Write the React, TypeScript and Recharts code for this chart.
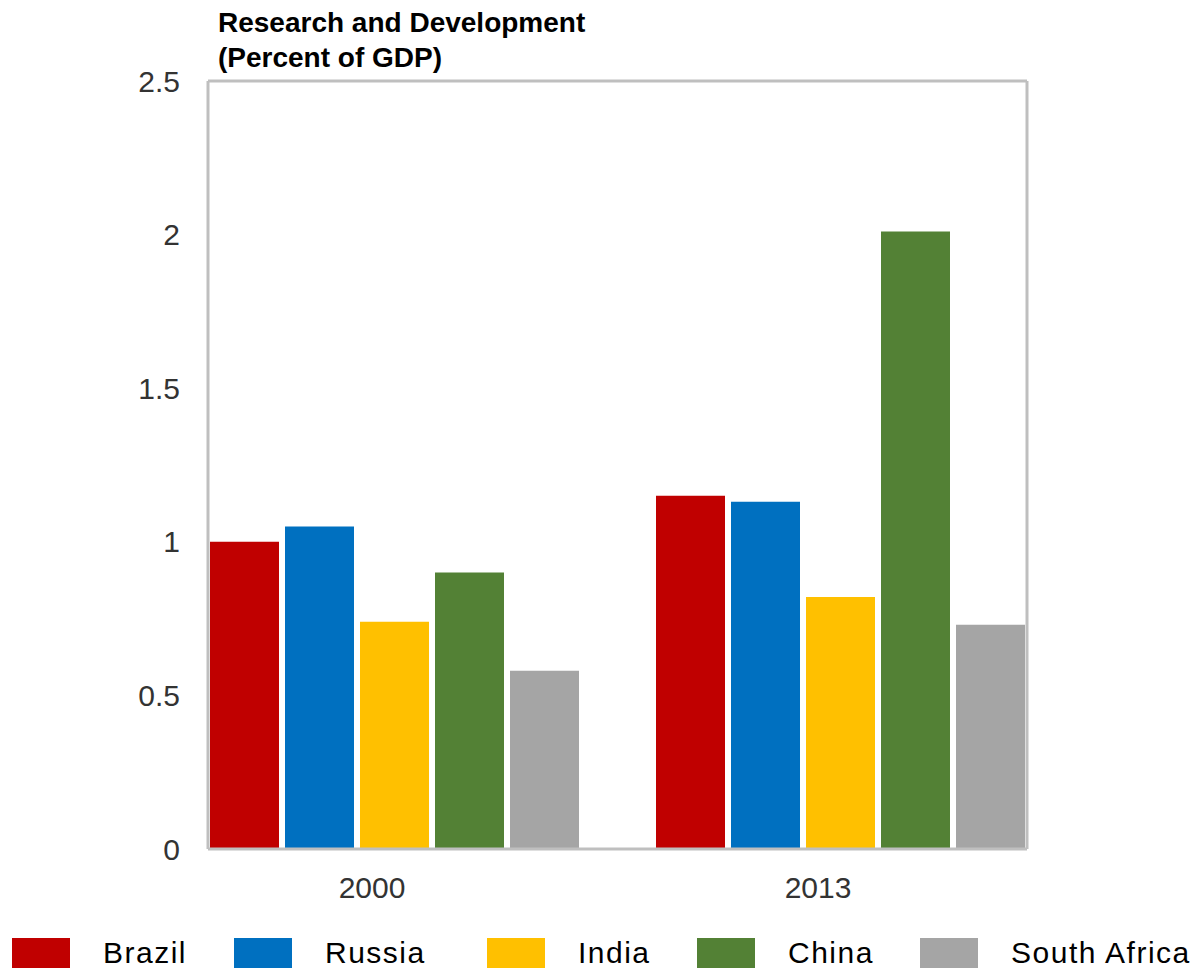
import { BarChart, Bar, XAxis, YAxis } from "recharts";

// R&D spending, percent of GDP
const years = ["2000", "2013"];
const brazil = [1.0, 1.15];
const russia = [1.05, 1.13];
const india = [0.74, 0.82];
const china = [0.9, 2.01];
const southAfrica = [0.58, 0.73];
const yTicks = [0, 0.5, 1, 1.5, 2, 2.5];

const series = [
  { key: "brazil", name: "Brazil", color: "#C00000", values: brazil },
  { key: "russia", name: "Russia", color: "#0070C0", values: russia },
  { key: "india", name: "India", color: "#FFC000", values: india },
  { key: "china", name: "China", color: "#538135", values: china },
  { key: "southAfrica", name: "South Africa", color: "#A5A5A5", values: southAfrica },
];

const data = years.map((year, i) => {
  const row: Record<string, string | number> = { year };
  series.forEach((s) => {
    row[s.key] = s.values[i];
  });
  return row;
});

const FONT = '"Liberation Sans", Arial, sans-serif';
const frame = { stroke: "#BFBFBF", strokeWidth: 3 };
// legend slot widths, left to right
const legendSlots = [222, 253, 210, 223, 270];

const YearTick = ({ x, y, payload }: any) => (
  <text x={x - 22} y={y} dy="0.71em" textAnchor="middle" fill="#333" fontSize={30} fontFamily={FONT}>
    {payload.value}
  </text>
);

export default function App() {
  return (
    <div style={{ position: "absolute", left: 0, top: 0, width: 1193, height: 969, background: "#fff", fontFamily: FONT }}>
      <div style={{ position: "absolute", left: 218, top: 5, fontSize: 28, fontWeight: "bold", lineHeight: "35px", color: "#000", whiteSpace: "nowrap" }}>
        Research and Development
        <br />
        (Percent of GDP)
      </div>

      <BarChart
        width={1193}
        height={969}
        data={data}
        margin={{ top: 80, right: 165, bottom: 60, left: 148 }}
        barCategoryGap={39}
        barGap={6}
      >
        <XAxis
          dataKey="year"
          height={60}
          padding={{ left: -37, right: -36 }}
          axisLine={frame}
          tickLine={false}
          tickSize={0}
          tickMargin={28}
          tick={<YearTick />}
        />
        <XAxis xAxisId="top" orientation="top" dataKey="year" height={1} axisLine={frame} tick={false} tickLine={false} />
        <YAxis
          width={60}
          domain={[0, 2.5]}
          ticks={yTicks}
          axisLine={frame}
          tickLine={false}
          tickSize={0}
          tickMargin={28}
          tick={{ fill: "#333", fontSize: 30, fontFamily: FONT }}
        />
        <YAxis yAxisId="right" orientation="right" width={1} domain={[0, 2.5]} axisLine={frame} tick={false} tickLine={false} />
        {series.map((s) => (
          <Bar key={s.key} dataKey={s.key} name={s.name} fill={s.color} isAnimationActive={false} />
        ))}
      </BarChart>

      <div style={{ position: "absolute", left: 12, top: 938, height: 30, display: "flex", alignItems: "center" }}>
        {series.map((s, i) => (
          <div key={s.key} style={{ display: "flex", alignItems: "center", width: legendSlots[i], flexShrink: 0 }}>
            <div style={{ width: 58, height: 30, background: s.color, marginRight: 33, flexShrink: 0 }} />
            <span style={{ fontSize: 30, lineHeight: "30px", letterSpacing: 1.5, color: "#000", whiteSpace: "nowrap" }}>{s.name}</span>
          </div>
        ))}
      </div>
    </div>
  );
}
